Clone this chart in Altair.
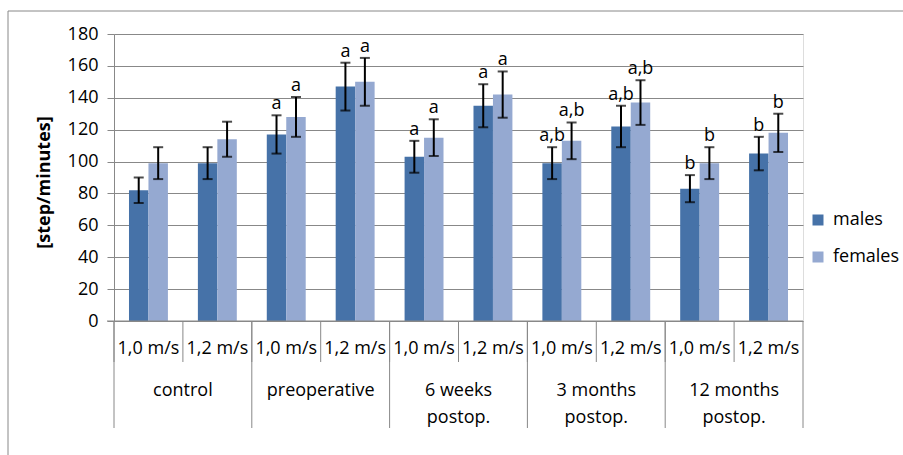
import altair as alt
import pandas as pd

groups = ["control", "preoperative", "6 weeks\npostop.", "3 months\npostop.", "12 months\npostop."]
speeds = ["1,0 m/s", "1,2 m/s"]
series = ["males", "females"]
males = [82, 99, 117, 147, 103, 135, 99, 122, 83, 105]
males_err = [8, 10, 12, 15, 10, 13.5, 10, 13, 8.5, 10.5]
females = [99, 114, 128, 150, 115, 142, 113, 137, 99, 118]
females_err = [10, 11, 12.5, 15, 11.5, 14.5, 11.5, 14, 10, 12]
male_letters = ["", "", "a", "a", "a", "a", "a,b", "a,b", "b", "b"]
female_letters = ["", "", "a", "a", "a", "a", "a,b", "a,b", "b", "b"]
y_ticks = [0, 20, 40, 60, 80, 100, 120, 140, 160, 180]

cats = [f"{g}|{s}" for g in groups for s in speeds]

rows = []
for i, c in enumerate(cats):
    for sx, vals, errs, lets in [("males", males, males_err, male_letters),
                                 ("females", females, females_err, female_letters)]:
        rows.append({"cat": c, "sex": sx, "value": vals[i],
                     "lo": vals[i] - errs[i], "hi": vals[i] + errs[i],
                     "letter": lets[i]})
df = pd.DataFrame(rows)

cat_df = pd.DataFrame({"cat": cats, "speed": [s for g in groups for s in speeds]})
grp_df = pd.DataFrame({"cat": [f"{g}|{speeds[1]}" for g in groups], "group": groups})
grp_start_df = pd.DataFrame({"cat": [f"{g}|{speeds[0]}" for g in groups]})
end_df = pd.DataFrame({"cat": [cats[-1]]})

W, H = 689, 287
FONT = "Open Sans"
GRAY = "#888888"
FS = 18

xscale = alt.Scale(domain=cats, paddingInner=0, paddingOuter=0)
X = alt.X("cat:N", scale=xscale, axis=None)
XO = alt.XOffset("sex:N", scale=alt.Scale(domain=series, paddingInner=0, paddingOuter=0.77))
yscale = alt.Scale(domain=[0, 180], nice=False)
yaxis = alt.Axis(values=y_ticks, grid=True, gridColor=GRAY, gridOpacity=1, labelOverlap=False,
                 domainColor=GRAY, tickColor=GRAY, tickSize=7,
                 labelFont=FONT, labelFontSize=FS, labelColor="#000000",
                 labelPadding=9, titleFont=FONT, titleFontSize=FS,
                 titleFontWeight="bold", titleColor="#000000",
                 titleX=-70, titleY=148, titleAngle=270,
                 titleAlign="center", titleBaseline="middle")
TITLE = "[step/minutes]"

base = alt.Chart(df)

bars = base.mark_bar().encode(
    x=X, xOffset=XO,
    y=alt.Y("value:Q", scale=yscale, title=TITLE, axis=yaxis),
    color=alt.Color("sex:N", scale=alt.Scale(domain=series, range=["#4672A8", "#95A9D1"]),
                    legend=alt.Legend(title=None, orient="none", legendX=695, legendY=177,
                                      symbolType="square", symbolSize=121, symbolStrokeWidth=0,
                                      labelFont=FONT, labelFontSize=FS, labelColor="#000000",
                                      labelOffset=6, rowPadding=19))
)

err = base.mark_rule(color="black", strokeWidth=2).encode(
    x=X, xOffset=XO, y=alt.Y("lo:Q", scale=yscale, title=TITLE, axis=yaxis), y2="hi:Q")
cap_hi = base.mark_tick(color="black", thickness=2, size=10, orient="horizontal").encode(
    x=X, xOffset=XO, y=alt.Y("hi:Q", scale=yscale, title=TITLE, axis=yaxis))
cap_lo = base.mark_tick(color="black", thickness=2, size=10, orient="horizontal").encode(
    x=X, xOffset=XO, y=alt.Y("lo:Q", scale=yscale, title=TITLE, axis=yaxis))
letters = base.mark_text(font=FONT, fontSize=FS, color="black", baseline="alphabetic", dy=-6).encode(
    x=X, xOffset=XO, y=alt.Y("hi:Q", scale=yscale, title=TITLE, axis=yaxis), text="letter:N")

speed_txt = alt.Chart(cat_df).mark_text(font=FONT, fontSize=FS, color="black", baseline="middle").encode(
    x=X, y=alt.value(H + 28), text="speed:N")
grp_txt = alt.Chart(grp_df).mark_text(font=FONT, fontSize=FS, color="black", baseline="middle",
                                      lineBreak="\n", lineHeight=27).encode(
    x=alt.X("cat:N", scale=xscale, axis=None, bandPosition=0), y=alt.value(H + 70), text="group:N")

short_sep = alt.Chart(cat_df).mark_rule(color=GRAY, strokeWidth=1).encode(
    x=alt.X("cat:N", scale=xscale, axis=None, bandPosition=0), y=alt.value(H), y2=alt.value(H + 41))
long_sep = alt.Chart(grp_start_df).mark_rule(color=GRAY, strokeWidth=1).encode(
    x=alt.X("cat:N", scale=xscale, axis=None, bandPosition=0), y=alt.value(H), y2=alt.value(H + 107))
end_sep = alt.Chart(end_df).mark_rule(color=GRAY, strokeWidth=1).encode(
    x=alt.X("cat:N", scale=xscale, axis=None, bandPosition=1), y=alt.value(H), y2=alt.value(H + 107))
baseline = alt.Chart(end_df).mark_rule(color=GRAY, strokeWidth=1).encode(
    x=alt.value(-7), x2=alt.value(W), y=alt.value(H))

frame = alt.Chart(end_df).mark_rect(fill=None, stroke=GRAY, strokeWidth=1).encode(
    x=alt.value(-106), x2=alt.value(W + 200), y=alt.value(-23), y2=alt.value(H + 200))

chart = alt.layer(frame, bars, err, cap_hi, cap_lo, letters, short_sep, long_sep, end_sep,
                  baseline, speed_txt, grp_txt).properties(
    width=W, height=H,
    autosize=alt.AutoSizeParams(type="none"),
    padding={"left": 114, "top": 34, "right": 100, "bottom": 134},
).configure_view(stroke=None).configure(background="white")

chart.save("out.html", embed_options={"renderer": "svg", "actions": False})
